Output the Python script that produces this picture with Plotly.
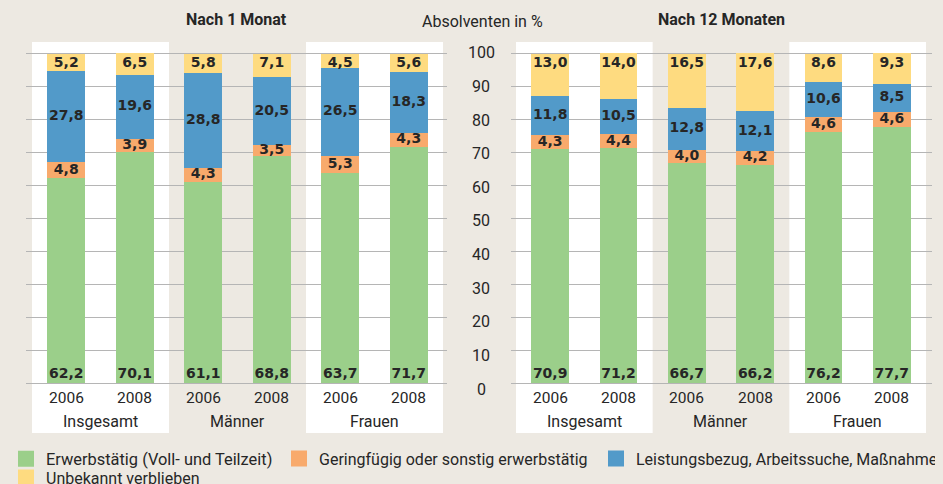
import plotly.graph_objects as go

# ---- data ----
groups = ["Insgesamt", "Männer", "Frauen"]
years = ["2006", "2008", "2006", "2008", "2006", "2008"]
series_names = [
    "Erwerbstätig (Voll- und Teilzeit)",
    "Geringfügig oder sonstig erwerbstätig",
    "Leistungsbezug, Arbeitssuche, Maßnahme",
    "Unbekannt verblieben",
]
colors = ["#9bcf8a", "#f8aa6c", "#529ac9", "#fedb80"]

# Nach 1 Monat
m1_erwerb = [62.2, 70.1, 61.1, 68.8, 63.7, 71.7]
m1_gering = [4.8, 3.9, 4.3, 3.5, 5.3, 4.3]
m1_leist = [27.8, 19.6, 28.8, 20.5, 26.5, 18.3]
m1_unbek = [5.2, 6.5, 5.8, 7.1, 4.5, 5.6]

# Nach 12 Monaten
m12_erwerb = [70.9, 71.2, 66.7, 66.2, 76.2, 77.7]
m12_gering = [4.3, 4.4, 4.0, 4.2, 4.6, 4.6]
m12_leist = [11.8, 10.5, 12.8, 12.1, 10.6, 8.5]
m12_unbek = [13.0, 14.0, 16.5, 17.6, 8.6, 9.3]

panel_titles = ["Nach 1 Monat", "Nach 12 Monaten"]
y_title = "Absolventen in %"
y_ticks = [0, 10, 20, 30, 40, 50, 60, 70, 80, 90, 100]

# ---- style ----
BG = "#ede9e2"
GRID = "#b5b5b5"
TXT = "#262626"
FONT = "Roboto"
LBL_FONT = "DejaVu Sans"
OFF = 8                      # page body margin of the html page
W, H = 943 - OFF, 484 - OFF  # figure size so that it fills the window
PLOT_TOP, PLOT_BOT = 42 - OFF, 433 - OFF
YR = [-15.17, 103.49]

def fx(p):  # window pixel x -> paper x
    return (p - OFF) / W

def fy(p):  # window pixel y -> paper y
    return (PLOT_BOT - (p - OFF)) / (PLOT_BOT - PLOT_TOP)

def fmt(v):
    return f"{v:.1f}".replace(".", ",")

fig = go.Figure()
xs = list(range(len(years)))

panels = [
    ("x", "y", [m1_erwerb, m1_gering, m1_leist, m1_unbek]),
    ("x2", "y2", [m12_erwerb, m12_gering, m12_leist, m12_unbek]),
]

for xa, ya, ser in panels:
    base = [0.0] * len(xs)
    for k, vals in enumerate(ser):
        fig.add_trace(go.Bar(
            x=xs, y=vals, base=base, width=0.555, xaxis=xa, yaxis=ya,
            marker=dict(color=colors[k], line=dict(width=0)),
            showlegend=False, hoverinfo="skip",
        ))
        if k == 0:
            ty = [b + 2.7 for b in base]
        elif k == 3:
            ty = [b + v - 3.0 for b, v in zip(base, vals)]
        else:
            ty = [b + v / 2 for b, v in zip(base, vals)]
        fig.add_trace(go.Scatter(
            x=xs, y=ty, mode="text", text=[fmt(v) for v in vals],
            textposition="middle center", xaxis=xa, yaxis=ya,
            textfont=dict(family=LBL_FONT, size=14, color=TXT, weight="bold"),
            showlegend=False, hoverinfo="skip", cliponaxis=False,
        ))
        base = [b + v for b, v in zip(base, vals)]

# legend entries: one small legend per entry, placed like the reference
legend_ids = ["legend", "legend2", "legend3", "legend4"]
legend_pos = [(6, 441.5), (279, 441.5), (596, 441.5), (6, 460.5)]
for n, c, lid in zip(series_names, colors, legend_ids):
    fig.add_trace(go.Scatter(
        x=[None], y=[None], mode="markers", name=n, xaxis="x", yaxis="y",
        marker=dict(symbol="square", size=16, color=c), legend=lid,
    ))

shapes = []
annotations = []
for xa, ya in [("x", "y"), ("x2", "y2")]:
    for gi in (0, 2):
        shapes.append(dict(
            type="rect", xref=xa, yref=ya, x0=2 * gi - 0.5, x1=2 * gi + 1.5,
            y0=YR[0], y1=YR[1], fillcolor="white", line=dict(width=0), layer="below",
        ))
    for i, yr in enumerate(years):
        annotations.append(dict(
            xref=xa, yref=ya, x=xs[i], y=-4.64, text=yr, showarrow=False,
            font=dict(family=FONT, size=15.5, color=TXT), xanchor="center", yanchor="middle",
        ))
    for gi, g in enumerate(groups):
        annotations.append(dict(
            xref=xa, yref=ya, x=2 * gi + 0.5, y=-11.7, text=g, showarrow=False,
            font=dict(family=FONT, size=16, color=TXT), xanchor="center", yanchor="middle",
        ))

annotations.append(dict(xref="paper", yref="paper", x=fx(236.5), y=fy(20),
                        text="<b>" + panel_titles[0] + "</b>", showarrow=False,
                        font=dict(family=FONT, size=16, color=TXT), xanchor="center", yanchor="middle"))
annotations.append(dict(xref="paper", yref="paper", x=fx(721.5), y=fy(20),
                        text="<b>" + panel_titles[1] + "</b>", showarrow=False,
                        font=dict(family=FONT, size=16, color=TXT), xanchor="center", yanchor="middle"))
annotations.append(dict(xref="paper", yref="paper", x=fx(482), y=fy(21),
                        text=y_title, showarrow=False,
                        font=dict(family=FONT, size=16, color=TXT), xanchor="center", yanchor="middle"))
for v in y_ticks:
    annotations.append(dict(xref="paper", yref="y2", x=fx(481), y=v, text=str(v),
                            showarrow=False, yshift=0.6 - 0.066 * (100 - v),
                            font=dict(family=FONT, size=16, color=TXT),
                            xanchor="center", yanchor="middle"))

yax = dict(range=YR, tickvals=y_ticks, showticklabels=False, showgrid=True,
           gridcolor=GRID, gridwidth=1.3, zeroline=False, showline=False, ticks="", fixedrange=True)

legends = {}
for lid, (lx, ly), n in zip(legend_ids, legend_pos, series_names):
    fs = 16.4 if n.startswith("Erwerb") else 16
    legends[lid] = dict(orientation="h", x=fx(lx), xanchor="left", y=fy(ly), yanchor="top",
                        font=dict(family=FONT, size=fs, color=TXT), bgcolor="rgba(0,0,0,0)",
                        borderwidth=0, tracegroupgap=0, traceorder="normal")

fig.update_layout(
    width=W, height=H,
    paper_bgcolor=BG, plot_bgcolor="rgba(0,0,0,0)",
    barmode="stack", bargap=0,
    margin=dict(l=0, r=0, t=PLOT_TOP, b=H - PLOT_BOT, autoexpand=False),
    xaxis=dict(domain=[fx(26), fx(447)], range=[-0.5876, 5.558], showticklabels=False,
               showgrid=False, zeroline=False, showline=False, ticks=""),
    xaxis2=dict(domain=[fx(511), fx(932)], range=[-0.573, 5.588], showticklabels=False,
                showgrid=False, zeroline=False, showline=False, ticks=""),
    yaxis=dict(anchor="x", **yax),
    yaxis2=dict(anchor="x2", **yax),
    shapes=shapes,
    annotations=annotations,
    showlegend=True,
    font=dict(family=FONT, color=TXT),
    **legends,
)

fig.write_html("out.html", post_script="document.body.style.backgroundColor='%s';" % BG)
